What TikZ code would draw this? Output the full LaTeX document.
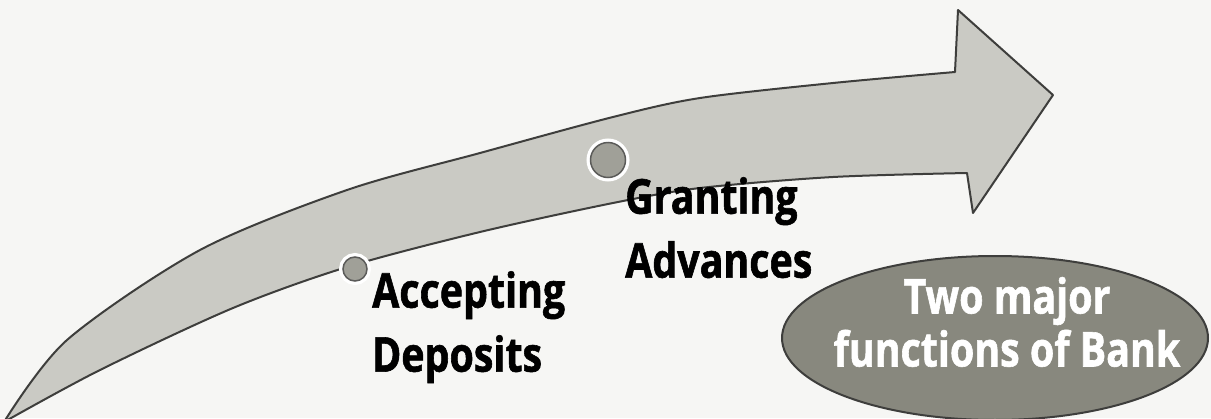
\documentclass[tikz,border=0pt]{standalone}
\usepackage{fontspec}
\newfontfamily\labelfont{Open Sans}[FakeStretch=0.82, FakeBold=1.2]
\usepackage{xcolor}
\usetikzlibrary{shapes.geometric}

\definecolor{paper}{RGB}{246,246,244}
\definecolor{arrowgray}{RGB}{202,202,196}
\definecolor{edgegray}{RGB}{62,62,60}
\definecolor{ovalgray}{RGB}{136,136,126}
\definecolor{spotgray}{RGB}{160,160,152}

\tikzset{
  arrowbody/.style={fill=arrowgray, draw=edgegray, line width=2pt, line join=round},
  spot/.style={circle, draw=edgegray!85, line width=1.5pt, fill=spotgray, inner sep=0pt,
    preaction={draw=white, line width=8pt}},
  word/.style={font=\labelfont\bfseries\fontsize{48}{64}\selectfont, align=left, inner sep=0pt},
  oval/.style={ellipse, draw=edgegray, line width=2pt, fill=ovalgray,
    minimum width=426pt, minimum height=164pt, inner sep=0pt},
  ovalword/.style={font=\labelfont\bfseries\fontsize{48}{53}\selectfont, align=center,
    text=white, inner sep=0pt}
}

\begin{document}
\begin{tikzpicture}[x=1pt, y=-1pt]
\useasboundingbox (0,0) rectangle (1211,418);
\clip (0,0) rectangle (1211,418);
\fill[paper] (0,0) rectangle (1211,418);

% curved arrow
\filldraw[arrowbody] plot[smooth] coordinates {(4,422) (67,340) (200,250) (347,190)
    (480,153) (613,117) (700,98) (833,83) (955,72)}
  -- (958,10) -- (1053,95) -- (973,213)
  -- plot[smooth] coordinates {(967,173) (833,177) (700,188) (613,203) (480,232)
    (347,267) (233,308) (100,370) (4,422)}
  -- cycle;

% the two functions
\node[spot, minimum size=24pt] (dep) at (355,269) {};
\node[spot, minimum size=35pt] (adv) at (608,160) {};
\node[word, anchor=north west] (deposits) at (372,271) {Accepting\\Deposits};
\node[word, anchor=north west] (advances) at (625,177) {Granting\\Advances};

% title oval
\node[oval] (bank) at (995,338) {};
\node[ovalword] (banktext) at ([xshift=12pt, yshift=16pt]bank.center) {Two major\\functions of Bank};
\end{tikzpicture}
\end{document}
